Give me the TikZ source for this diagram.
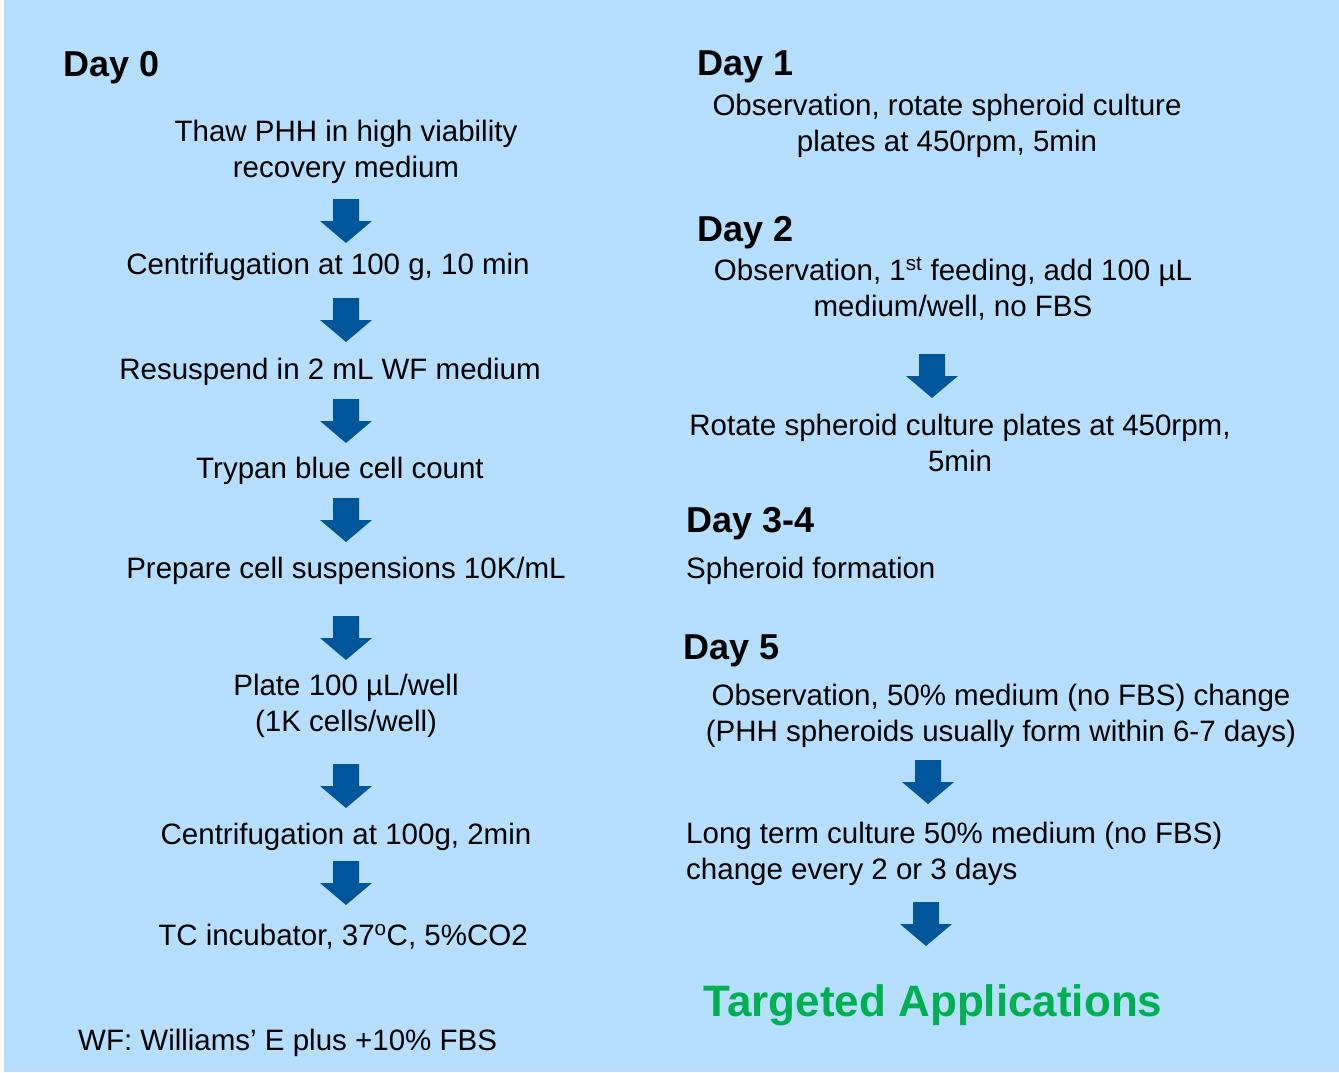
\documentclass[tikz,border=0pt]{standalone}
\usepackage{fontspec}
\setmainfont{Liberation Sans}
\definecolor{bgblue}{RGB}{182,222,254}
\definecolor{arrowblue}{RGB}{0,86,155}
\definecolor{appgreen}{RGB}{0,176,80}
\begin{document}
\begin{tikzpicture}[x=1pt,y=-1pt,
  txt/.style={inner sep=0pt, anchor=base, align=center, font=\fontsize{29.5}{36}\selectfont},
  txtl/.style={inner sep=0pt, anchor=base west, align=left, font=\fontsize{29.5}{36}\selectfont},
  hd/.style={inner sep=0pt, anchor=base west, font=\fontsize{36}{43}\selectfont\bfseries},
  apps/.style={inner sep=0pt, anchor=base, text=appgreen, font=\fontsize{44}{52}\selectfont\bfseries},
  pics/downarrow/.style={code={\fill[arrowblue] (-13,0) -- (13,0) -- (13,22) -- (26,22) -- (0,44) -- (-26,22) -- (-13,22) -- cycle;}}]
\useasboundingbox (0,0) rectangle (1339,1072);
\fill[white] (0,0) rectangle (1339,1072);
\fill[bgblue] (4,0) rectangle (1339,1072);
% left column (multi-line nodes are placed by the baseline of their last line)
\node[hd] (d0) at (63,76) {Day 0};
\node[txt] (l1) at (346,177) {Thaw PHH in high viability\\recovery medium};
\pic (a1) at (346,199) {downarrow};
\node[txt] (l2) at (328,274) {Centrifugation at 100 g, 10 min};
\pic (a2) at (346,298) {downarrow};
\node[txt] (l3) at (330,379) {Resuspend in 2 mL WF medium};
\pic (a3) at (346,399) {downarrow};
\node[txt] (l4) at (340,478) {Trypan blue cell count};
\pic (a4) at (346,498) {downarrow};
\node[txt] (l5) at (346,578) {Prepare cell suspensions 10K/mL};
\pic (a5) at (346,616) {downarrow};
\node[txt] (l6) at (346,731) {Plate 100 µL/well\\(1K cells/well)};
\pic (a6) at (346,764) {downarrow};
\node[txt] (l7) at (346,844) {Centrifugation at 100g, 2min};
\pic (a7) at (346,861) {downarrow};
\node[txt] (l8) at (343,945) {TC incubator, 37\textsuperscript{o}C, 5\%CO2};
\node[txtl] (wf) at (78,1050) {WF: Williams’ E plus +10\% FBS};
% right column
\node[hd] (d1) at (697,75) {Day 1};
\node[txt] (r1) at (947,151) {Observation, rotate spheroid culture\\plates at 450rpm, 5min};
\node[hd] (d2) at (697,241) {Day 2};
\node[txt] (r2) at (953,316) {Observation, 1\textsuperscript{st} feeding, add 100 µL\\medium/well, no FBS};
\pic (a8) at (932,354) {downarrow};
\node[txt] (r3) at (960,471) {Rotate spheroid culture plates at 450rpm,\\5min};
\node[hd] (d34) at (686,532) {Day 3-4};
\node[txtl] (r4) at (686,578) {Spheroid formation};
\node[hd] (d5) at (683,659) {Day 5};
\node[txt] (r5) at (1001,741) {Observation, 50\% medium (no FBS) change\\(PHH spheroids usually form within 6-7 days)};
\pic (a9) at (928,760) {downarrow};
\node[txtl] (r6) at (686,879) {Long term culture 50\% medium (no FBS)\\change every 2 or 3 days};
\pic (a10) at (926,902) {downarrow};
\node[apps] (ta) at (933,1016) {Targeted Applications};
\end{tikzpicture}
\end{document}
